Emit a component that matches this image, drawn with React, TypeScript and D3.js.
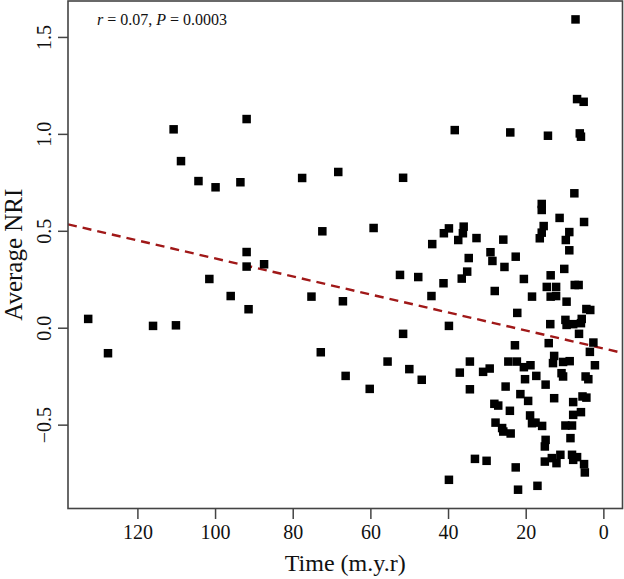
import React from "react";
import * as d3 from "d3";

// Time (m.y.r) values
const timeValues: number[] = [
  132.8, 127.7, 116.1, 110.2, 110.8, 108.9, 104.4, 101.6, 100.0, 96.1,
  93.6, 92.0, 92.0, 92.0, 91.5, 87.5, 77.7, 75.3, 72.9, 72.5,
  68.4, 67.2, 66.5, 60.3, 59.3, 55.7, 52.5, 51.7, 51.7, 50.1,
  47.8, 46.9, 44.4, 44.2, 41.3, 41.2, 39.9, 39.9, 39.9, 38.4,
  37.5, 37.1, 36.6, 36.3, 36.1, 35.2, 34.8, 34.5, 34.5, 33.2,
  32.8, 31.1, 30.2, 29.4, 29.2, 28.7, 28.2, 28.1, 27.9, 27.2,
  26.2, 25.9, 25.9, 25.6, 25.3, 24.6, 24.2, 24.1, 24.0, 22.9,
  22.7, 22.7, 22.4, 22.3, 22.1, 21.5, 20.6, 20.6, 20.3, 19.5,
  19.0, 18.9, 18.5, 18.5, 17.6, 17.4, 17.1, 16.5, 16.0, 16.0,
  16.0, 15.9, 15.5, 15.2, 15.2, 15.0, 15.0, 14.7, 14.4, 14.2,
  13.8, 13.7, 13.7, 13.4, 13.1, 12.8, 12.8, 12.3, 12.3, 12.2,
  11.4, 11.2, 10.9, 10.5, 10.5, 10.2, 9.9, 9.9, 9.8, 9.6,
  9.6, 8.9, 8.9, 8.8, 8.6, 8.2, 8.2, 7.9, 7.9, 7.9,
  7.9, 7.6, 7.5, 7.3, 6.9, 6.9, 6.5, 6.4, 6.2, 5.9,
  5.9, 5.9, 5.7, 5.5, 5.2, 5.1, 5.1, 4.9, 4.7, 4.5,
  4.5, 4.0, 3.6, 3.5, 2.7, 2.3,
];

// Average NRI values
const nriValues: number[] = [
  0.048, -0.129, 0.012, 0.015, 1.026, 0.862, 0.759, 0.254, 0.727, 0.166,
  0.753, 1.079, 0.393, 0.318, 0.098, 0.330, 0.775, 0.163, -0.124, 0.500,
  0.806, 0.139, -0.246, -0.313, 0.517, -0.172, 0.275, 0.776, -0.029, -0.211,
  0.264, -0.266, 0.166, 0.434, 0.232, 0.490, 0.515, 0.012, -0.782, 1.022,
  0.455, -0.229, 0.256, 0.490, 0.524, 0.292, 0.362, -0.172, -0.315, -0.674,
  0.465, -0.225, -0.684, -0.208, 0.392, 0.347, -0.390, 0.192, -0.487, -0.399,
  -0.515, 0.457, -0.533, 0.316, -0.301, -0.172, -0.426, 1.010, -0.543, -0.088,
  0.369, -0.718, -0.172, 0.079, -0.833, -0.340, 0.254, -0.201, -0.263, -0.375,
  -0.450, -0.191, 0.163, -0.490, -0.487, -0.246, -0.813, 0.464, 0.641, 0.610,
  0.493, -0.504, 0.527, -0.610, -0.688, -0.576, -0.291, 0.213, 0.993, -0.077,
  0.021, 0.273, 0.163, -0.670, -0.180, -0.143, -0.361, 0.213, 0.166, -0.696,
  0.569, -0.653, -0.232, -0.249, -0.174, 0.306, 0.043, -0.502, 0.455, 0.137,
  0.017, 0.496, 0.402, -0.170, -0.567, -0.502, -0.653, 0.021, -0.381, -0.447,
  -0.679, 0.696, 0.223, 1.593, 1.182, -0.665, 0.223, -0.029, 1.005, 0.988,
  0.026, -0.433, 0.048, -0.352, 1.168, 0.548, -0.701, -0.744, -0.249, 0.099,
  -0.358, -0.263, -0.122, 0.094, -0.074, -0.191,
];

const xTicks: number[] = [120, 100, 80, 60, 40, 20, 0];
const yTicks: number[] = [-0.5, 0, 0.5, 1.0, 1.5];
const yTickLabels: string[] = ["\u22120.5", "0.0", "0.5", "1.0", "1.5"];

// Fitted regression line: NRI = intercept + slope * time
const regIntercept = -0.105;
const regSlope = 0.004645;

const xDomain: [number, number] = [138.0, -4.8];
const yDomain: [number, number] = [-0.93, 1.688];

export default function App() {
  const W = 624;
  const H = 579;
  const left = 68;
  const right = 622.5;
  const top = 1;
  const bottom = 508.5;

  const x = d3.scaleLinear().domain(xDomain).range([left, right]);
  const y = d3.scaleLinear().domain(yDomain).range([bottom, top]);

  const pts = timeValues.map((t, i) => ({ t, v: nriValues[i] }));
  const sq = 8.5;
  const font = "'Liberation Serif', 'Times New Roman', serif";

  const lineGen = d3
    .line<number>()
    .x((t) => x(t))
    .y((t) => y(regIntercept + regSlope * t));

  return (
    <svg
      width={W}
      height={H}
      style={{ position: "absolute", left: 0, top: 0, background: "#fff" }}
      fontFamily={font}
    >
      <defs>
        <clipPath id="plotclip">
          <rect x={left} y={top} width={right - left} height={bottom - top} />
        </clipPath>
      </defs>
      <rect x={0} y={0} width={W} height={H} fill="#fff" />

      {/* regression line */}
      <path
        d={lineGen(xDomain) || ""}
        fill="none"
        stroke="#a01818"
        strokeWidth={2.4}
        strokeDasharray="9,6"
        clipPath="url(#plotclip)"
      />

      {/* points */}
      <g>
        {pts.map((p, i) => (
          <rect
            key={i}
            x={x(p.t) - sq / 2}
            y={y(p.v) - sq / 2}
            width={sq}
            height={sq}
            fill="#000"
          />
        ))}
      </g>

      {/* frame */}
      <rect
        x={left}
        y={top}
        width={right - left}
        height={bottom - top}
        fill="none"
        stroke="#444"
        strokeWidth={1.6}
      />

      {/* x axis ticks */}
      <g>
        {xTicks.map((t) => (
          <g key={t}>
            <line x1={x(t)} x2={x(t)} y1={bottom} y2={bottom + 10.5} stroke="#444" strokeWidth={1.5} />
            <text x={x(t)} y={539} textAnchor="middle" fontSize={20} fill="#111">
              {t}
            </text>
          </g>
        ))}
      </g>

      {/* y axis ticks */}
      <g>
        {yTicks.map((v, i) => (
          <g key={v}>
            <line x1={left - 10} x2={left} y1={y(v)} y2={y(v)} stroke="#444" strokeWidth={1.5} />
            <text
              transform={`translate(51,${y(v)}) rotate(-90)`}
              textAnchor="middle"
              fontSize={20}
              fill="#111"
            >
              {yTickLabels[i]}
            </text>
          </g>
        ))}
      </g>

      {/* axis titles */}
      <text x={(left + right) / 2} y={571} textAnchor="middle" fontSize={24} fill="#111">
        Time (m.y.r)
      </text>
      <text
        transform={`translate(22,${(top + bottom) / 2}) rotate(-90)`}
        textAnchor="middle"
        fontSize={25}
        fill="#111"
      >
        Average NRI
      </text>

      {/* annotation */}
      <text x={97} y={25} fontSize={16} fill="#111">
        <tspan fontStyle="italic">r</tspan>
        <tspan> = 0.07, </tspan>
        <tspan fontStyle="italic">P</tspan>
        <tspan> = 0.0003</tspan>
      </text>
    </svg>
  );
}
